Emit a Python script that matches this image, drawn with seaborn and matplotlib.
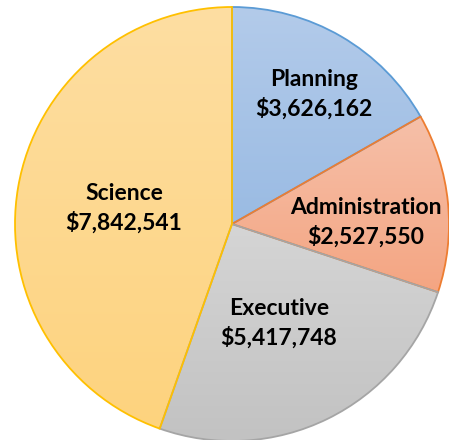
import numpy as np
import matplotlib
matplotlib.use("Agg")
import matplotlib.pyplot as plt
import matplotlib.colors as mcolors
import seaborn as sns

# data
departments = ["Planning", "Administration", "Executive", "Science"]
budgets = [3626162, 2527550, 5417748, 7842541]
# slice shares as drawn in the picture (percent of circle)
slice_share = [16.76, 13.33, 25.32, 44.60]

# office-style colours: gradient top, gradient bottom, edge
top_colors = ["#b3cbea", "#f6c0a9", "#d5d5d5", "#fedea2"]
bottom_colors = ["#9abbe3", "#f4a582", "#c2c2c2", "#fdd37e"]
edge_colors = ["#5b9bd5", "#ed7d31", "#a5a5a5", "#ffc000"]

# label anchor points (figure pixels, from top-left)
label_pos = [(314, 94), (366, 222), (279, 323), (124, 208)]

sns.set_theme(style="white")
plt.rcParams["font.family"] = ["Lato", "DejaVu Sans"]

W, H = 449, 440
fig = plt.figure(figsize=(W / 100, H / 100), dpi=100)
ax = fig.add_axes([0, 0, 1, 1])

cx, cy, r = 232, H - 224, 217
wedges, _ = ax.pie(slice_share, startangle=90, counterclock=False,
                   center=(cx, cy), radius=r,
                   wedgeprops=dict(linewidth=1.3, zorder=3))

# vertical gradient fill inside each slice
for w, c_top, c_bot, ec in zip(wedges, top_colors, bottom_colors, edge_colors):
    w.set_facecolor("none")
    w.set_edgecolor(ec)
    ext = w.get_path().get_extents()
    cmap = mcolors.LinearSegmentedColormap.from_list("g", [c_bot, c_top])
    grad = np.linspace(0, 1, 256).reshape(-1, 1)
    im = ax.imshow(grad, cmap=cmap, origin="lower", aspect="auto",
                   extent=(ext.x0, ext.x1, ext.y0, ext.y1), zorder=2)
    im.set_clip_path(w)

for name, val, (px, py) in zip(departments, budgets, label_pos):
    ax.text(px, H - py, f"{name}\n${val:,}", ha="center", va="center",
            fontsize=16.5, fontweight="bold", color="black",
            linespacing=1.4, zorder=5)

ax.set_xlim(0, W)
ax.set_ylim(0, H)
ax.set_aspect("equal")
ax.axis("off")
fig.savefig("out.png", dpi=100, facecolor="white")
